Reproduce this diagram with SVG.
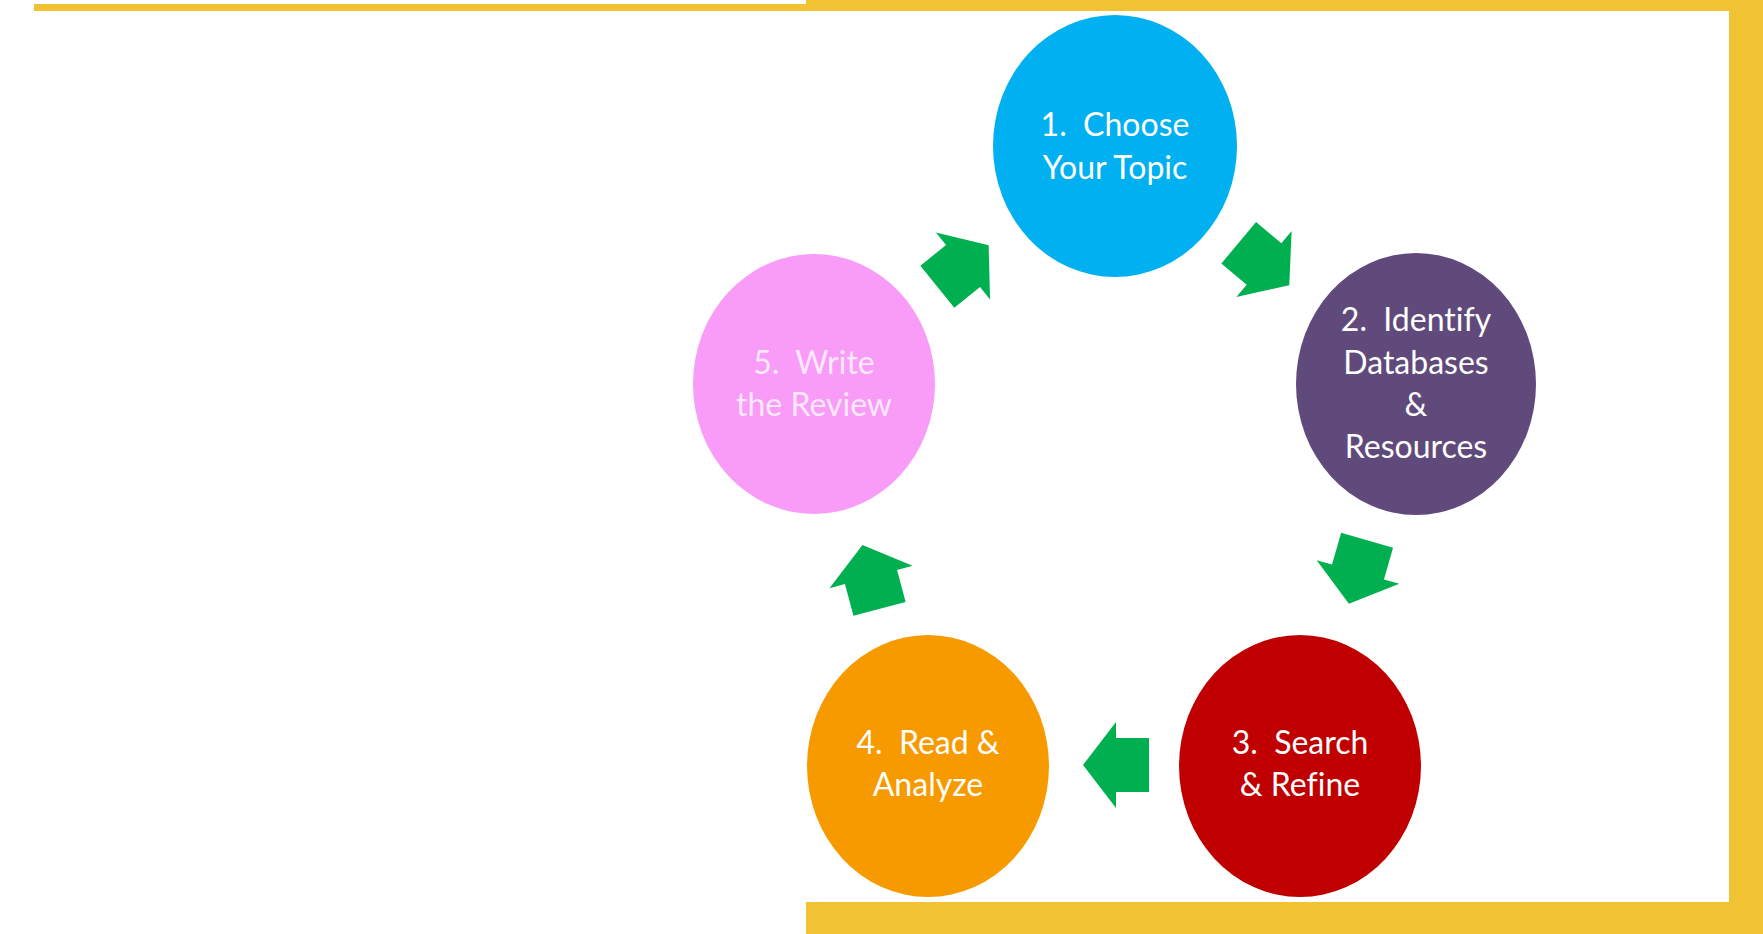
<svg xmlns="http://www.w3.org/2000/svg" width="1763" height="934" viewBox="0 0 1763 934">
  <defs>
    <style>
      .frame { fill: #F1C232; }
      .lbl { font-family: Lato, "Open Sans", "Liberation Sans", sans-serif; font-size: 32px; fill: #FFFFFF; text-anchor: middle; white-space: pre; font-variant-ligatures: none; }
      .lbl-pink { fill: #FFFFFF; fill-opacity: 0.78; }
      .arrow { fill: #00B050; }
    </style>
    <polygon id="blockArrow" points="-33,-27 0,-27 0,-43 33,0 0,43 0,27 -33,27"/>
  </defs>
  <rect x="0" y="0" width="1763" height="934" fill="#FFFFFF"/>

  <g id="frame">
    <rect class="frame" x="34" y="4" width="780" height="7"/>
    <rect class="frame" x="806" y="0" width="957" height="11"/>
    <rect class="frame" x="1729" y="0" width="34" height="934"/>
    <rect class="frame" x="806" y="902" width="957" height="32"/>
  </g>

  <g id="connectors">
    <use href="#blockArrow" class="arrow" transform="translate(1264,264) rotate(40)"/>
    <use href="#blockArrow" class="arrow" transform="translate(1358,572) rotate(106)"/>
    <use href="#blockArrow" class="arrow" transform="translate(1116,765) rotate(180)"/>
    <use href="#blockArrow" class="arrow" transform="translate(871,577) rotate(-105)"/>
    <use href="#blockArrow" class="arrow" transform="translate(963,266) rotate(-39)"/>
  </g>

  <g id="node1">
    <ellipse cx="1115" cy="146" rx="122" ry="131" fill="#00B0F0"/>
    <text class="lbl" xml:space="preserve" x="1115" y="136">1.  Choose</text>
    <text class="lbl" x="1115" y="179">Your Topic</text>
  </g>

  <g id="node2">
    <ellipse cx="1416" cy="384" rx="120" ry="131" fill="#604A7B"/>
    <text class="lbl" xml:space="preserve" x="1416" y="331">2.  Identify</text>
    <text class="lbl" x="1416" y="374">Databases</text>
    <text class="lbl" x="1416" y="416">&amp;</text>
    <text class="lbl" x="1416" y="458">Resources</text>
  </g>

  <g id="node3">
    <ellipse cx="1300" cy="766" rx="121" ry="131" fill="#C00000"/>
    <text class="lbl" xml:space="preserve" x="1300" y="754">3.  Search</text>
    <text class="lbl" x="1300" y="796">&amp; Refine</text>
  </g>

  <g id="node4">
    <ellipse cx="928" cy="766" rx="121" ry="131" fill="#F79A00"/>
    <text class="lbl" xml:space="preserve" x="928" y="754">4.  Read &amp;</text>
    <text class="lbl" x="928" y="796">Analyze</text>
  </g>

  <g id="node5">
    <ellipse cx="814" cy="384" rx="121" ry="130" fill="#F99CF7"/>
    <text class="lbl lbl-pink" xml:space="preserve" x="814" y="374">5.  Write</text>
    <text class="lbl lbl-pink" x="814" y="416">the Review</text>
  </g>
</svg>
